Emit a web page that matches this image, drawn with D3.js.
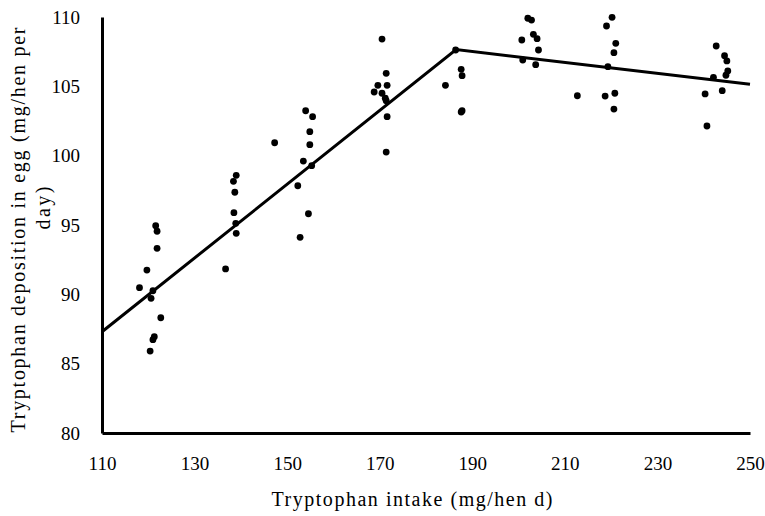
<!DOCTYPE html>
<html>
<head>
<meta charset="utf-8">
<script src="https://cdn.jsdelivr.net/npm/d3@7"></script>
<style>
  body { margin: 0; background: #fff; }
  text { font-family: "Liberation Serif", "DejaVu Serif", serif; fill: #000; }
</style>
</head>
<body>
<div id="chart"></div>
<script>
// observed points (intake, deposition)
const intake = [
  121.6, 121.9, 121.9, 119.7, 118.1, 121.0, 120.6, 122.7, 121.3, 121.0, 120.4,
  139.0, 138.4, 138.7, 138.5, 138.9, 139.0, 136.7,
  154.0, 155.5, 154.9, 154.9, 147.3, 153.5, 155.3, 152.3, 154.6, 152.8,
  170.5, 171.4, 169.6, 171.6, 168.8, 170.5, 171.2, 171.4, 171.6, 171.4,
  184.2, 186.4, 187.6, 187.8, 187.6, 187.8,
  202.0, 202.8, 200.7, 203.2, 204.0, 204.3, 200.9, 203.7,
  212.7, 220.2, 219.0, 221.0, 220.6, 219.3, 218.7, 220.8, 220.6,
  242.7, 244.5, 245.0, 245.2, 244.8, 242.1, 240.3, 244.0, 240.7
];
const deposition = [
  94.95, 94.55, 93.32, 91.75, 90.48, 90.26, 89.71, 88.31, 86.94, 86.73, 85.91,
  98.58, 98.15, 97.36, 95.89, 95.12, 94.40, 91.83,
  103.24, 102.81, 101.73, 100.79, 100.93, 99.61, 99.28, 97.83, 95.81, 94.11,
  108.41, 105.94, 105.07, 105.07, 104.59, 104.50, 104.14, 103.96, 102.81, 100.26,
  105.07, 107.62, 106.23, 105.77, 103.15, 103.24,
  109.91, 109.78, 108.34, 108.75, 108.44, 107.62, 106.90, 106.56,
  104.32, 109.98, 109.35, 108.10, 107.43, 106.42, 104.30, 104.50, 103.36,
  107.91, 107.21, 106.83, 106.11, 105.80, 105.65, 104.45, 104.69, 102.14
];

// broken-line fit
const fitX = [110, 186.5, 250];
const fitY = [87.3, 107.65, 105.15];

const xTicks = [110, 130, 150, 170, 190, 210, 230, 250];
const yTicks = [80, 85, 90, 95, 100, 105, 110];

const width = 765, height = 516;
const margin = {left: 102, right: 15, top: 17, bottom: 83};

const svg = d3.select("#chart").append("svg")
  .attr("width", width)
  .attr("height", height);

const x = d3.scaleLinear().domain([110, 250]).range([margin.left, width - margin.right]);
const y = d3.scaleLinear().domain([80, 110]).range([height - margin.bottom, margin.top]);

// axes
const xAxis = svg.append("g")
  .attr("transform", `translate(0,${height - margin.bottom})`)
  .call(d3.axisBottom(x).tickValues(xTicks).tickSize(0).tickPadding(24).tickFormat(d3.format("d")));
xAxis.select(".domain").attr("stroke", "#000").attr("stroke-width", 3);
xAxis.selectAll("text").style("font-size", "19px").style("font-family", "Liberation Serif, serif");

const yAxis = svg.append("g")
  .attr("transform", `translate(${margin.left},0)`)
  .call(d3.axisLeft(y).tickValues(yTicks).tickSize(0).tickPadding(22).tickFormat(d3.format("d")));
yAxis.select(".domain").attr("stroke", "#000").attr("stroke-width", 3);
yAxis.selectAll("text").style("font-size", "19px").style("font-family", "Liberation Serif, serif");

// fitted line
const line = d3.line().x((d, i) => x(fitX[i])).y(d => y(d));
svg.append("path")
  .datum(fitY)
  .attr("d", line)
  .attr("fill", "none")
  .attr("stroke", "#000")
  .attr("stroke-width", 3);

// points
svg.append("g")
  .selectAll("circle")
  .data(intake)
  .join("circle")
  .attr("cx", d => x(d))
  .attr("cy", (d, i) => y(deposition[i]))
  .attr("r", 3.4)
  .attr("fill", "#000");

// axis titles (stretched a little, the original face is wider)
svg.append("text")
  .attr("x", 412)
  .attr("y", 506)
  .attr("text-anchor", "middle")
  .attr("textLength", 281)
  .attr("lengthAdjust", "spacing")
  .style("font-size", "20px")
  .text("Tryptophan intake (mg/hen d)");

svg.append("text")
  .attr("transform", "translate(25,230) rotate(-90)")
  .attr("text-anchor", "middle")
  .attr("textLength", 405)
  .attr("lengthAdjust", "spacing")
  .style("font-size", "20px")
  .text("Tryptophan deposition in egg  (mg/hen per");

svg.append("text")
  .attr("transform", "translate(50,208) rotate(-90)")
  .attr("text-anchor", "middle")
  .attr("textLength", 43)
  .attr("lengthAdjust", "spacing")
  .style("font-size", "20px")
  .text("day)");
</script>
</body>
</html>
